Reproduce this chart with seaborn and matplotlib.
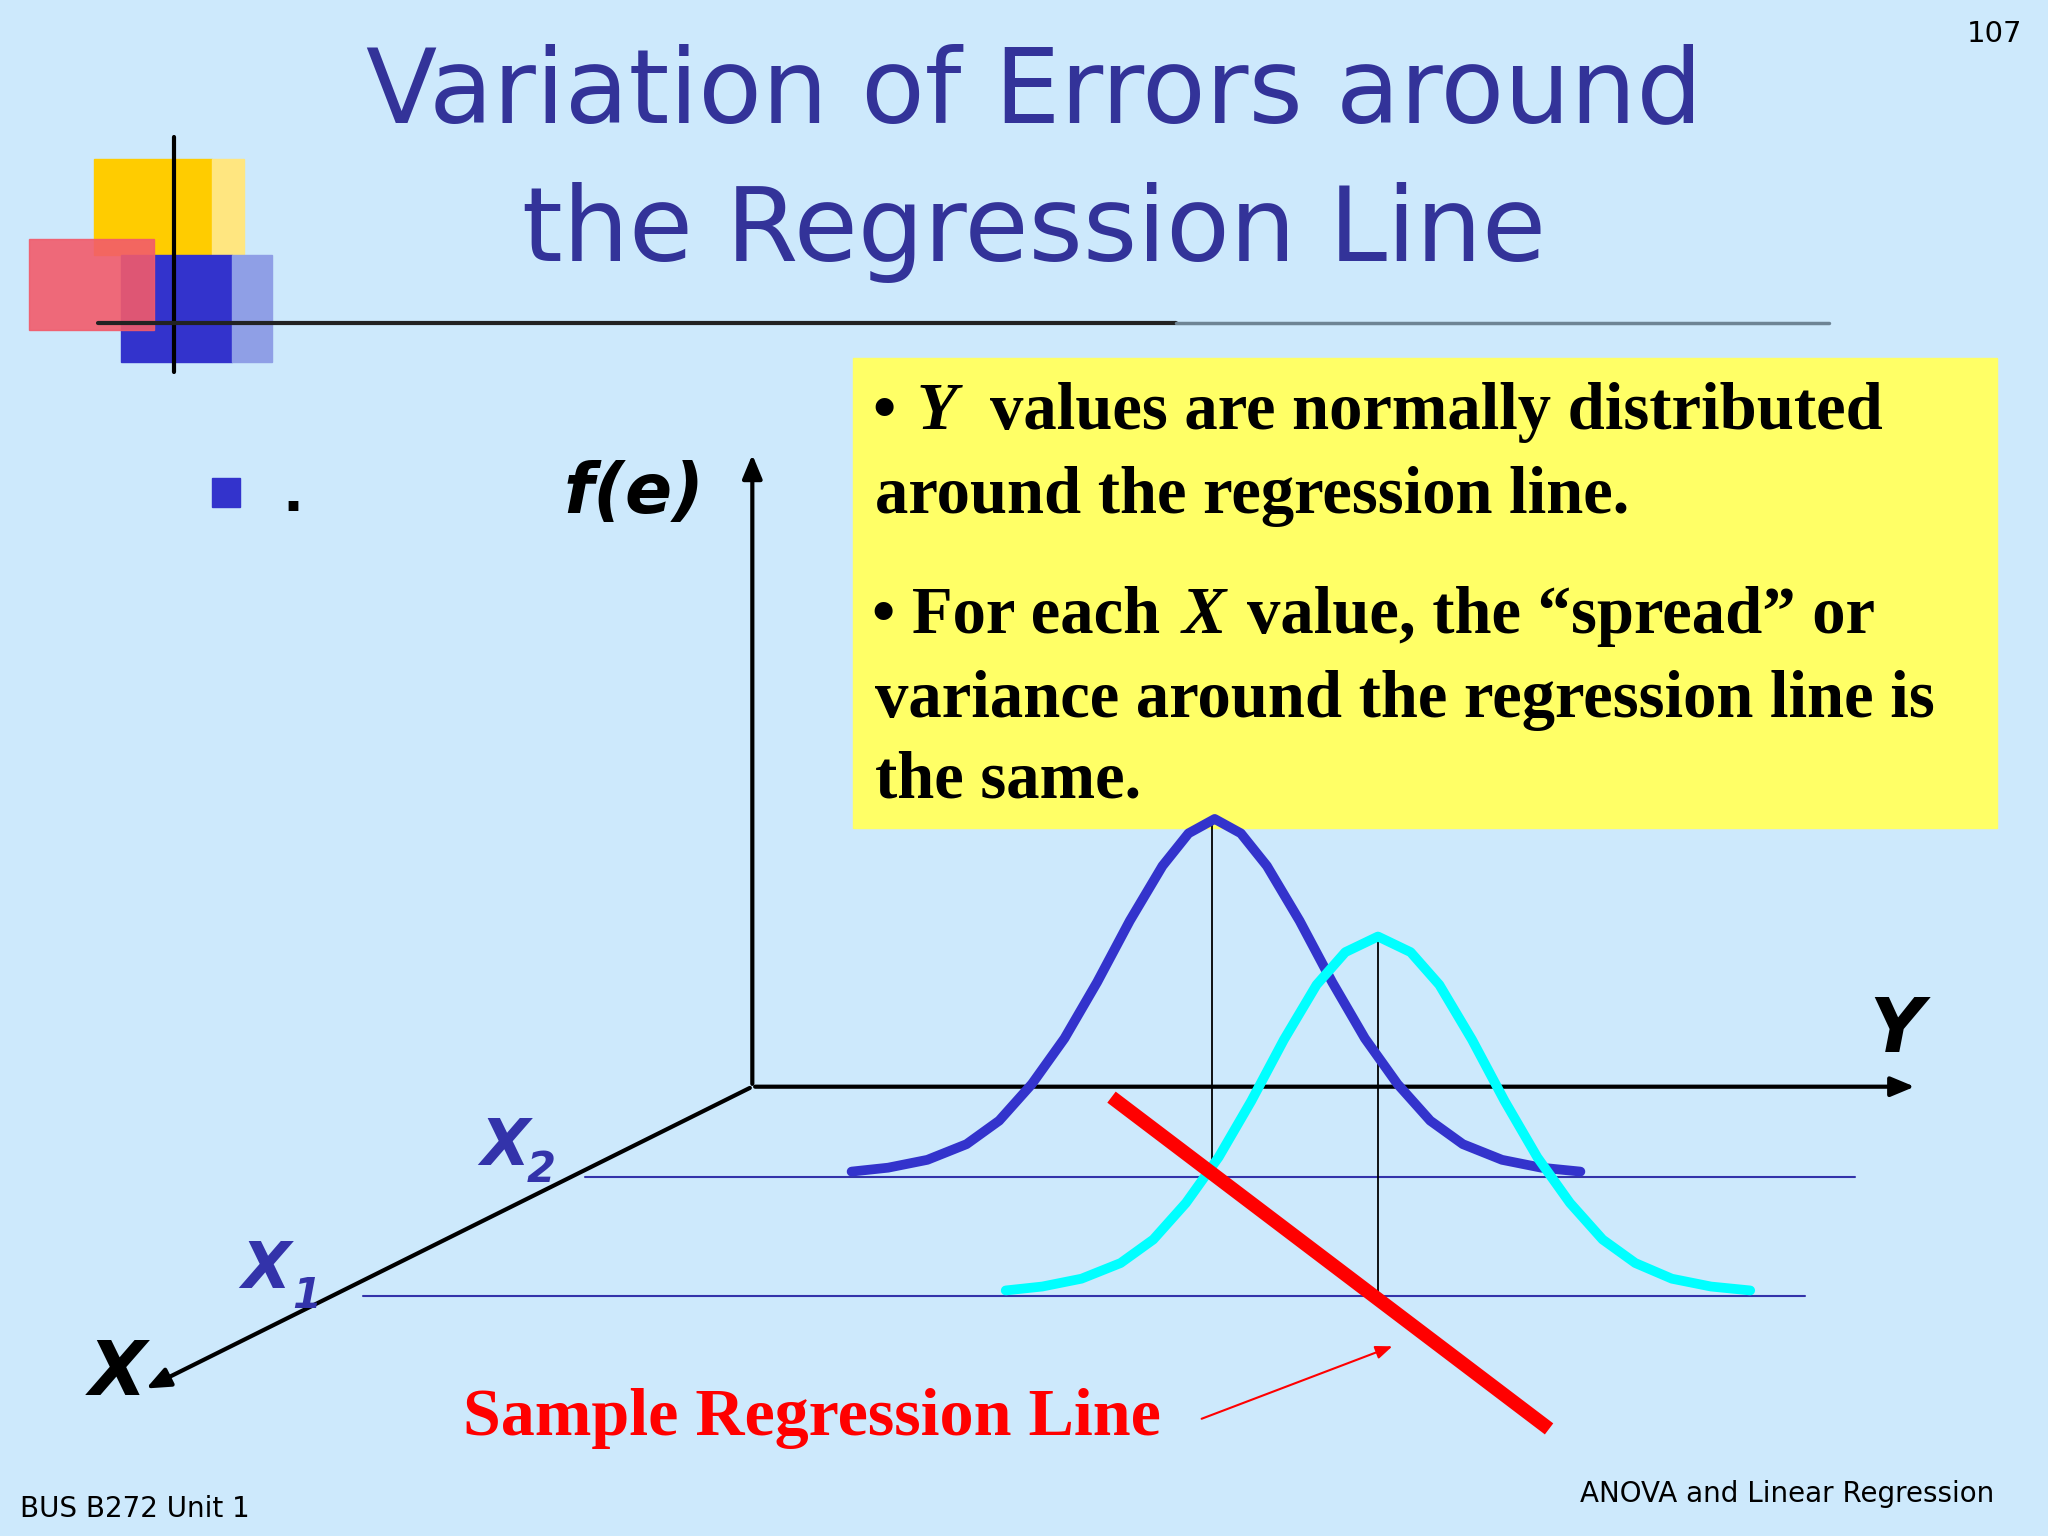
import matplotlib
matplotlib.use("Agg")
import matplotlib.pyplot as plt
import seaborn as sns
import numpy as np
import pandas as pd
from matplotlib.patches import Rectangle, FancyArrowPatch

sns.set_theme(style="white")
plt.rcParams['font.family'] = ['DejaVu Sans']
plt.rcParams['text.color'] = 'black'

# Curve points (reference pixel coordinates)
curve1_x = [652, 680, 710, 740, 765, 790, 815, 840, 865, 890, 910, 930, 950, 970, 995, 1020, 1045, 1070, 1095, 1120, 1150, 1180, 1210]
curve1_y = [897, 894, 888, 876, 858, 830, 795, 752, 705, 663, 638, 627, 638, 663, 705, 752, 795, 830, 858, 876, 888, 894, 897]
curve2_x = [770, 798, 828, 858, 883, 908, 933, 958, 983, 1008, 1030, 1055, 1080, 1102, 1127, 1152, 1177, 1202, 1227, 1252, 1280, 1310, 1340]
curve2_y = [988, 985, 979, 967, 949, 921, 886, 843, 796, 754, 729, 717, 729, 754, 796, 843, 886, 921, 949, 967, 979, 985, 988]

title1 = "Variation of Errors around"
title2 = "the Regression Line"
box_text1 = "around the regression line."
box_text2 = "variance around the regression line is"
box_text3 = "the same."
footer_left = "BUS B272 Unit 1"
footer_right = "ANOVA and Linear Regression"
page_no = "107"

bg = "#CDE9FC"
fig = plt.figure(figsize=(20.48, 15.36), dpi=100, facecolor=bg)
ax = fig.add_axes([0, 0, 1, 1])

# decorative squares
ax.add_patch(Rectangle((72, 122), 90, 73, color="#FFCC00", zorder=1))
ax.add_patch(Rectangle((162, 122), 25, 73, color="#FFE680", zorder=1))
ax.add_patch(Rectangle((93, 195), 85, 82, color="#3333CC", zorder=2))
ax.add_patch(Rectangle((178, 195), 30, 82, color="#8F9FE6", zorder=2))
ax.add_patch(Rectangle((22, 183), 96, 70, color="#F25B6B", alpha=0.9, zorder=3))
ax.plot([133, 133], [105, 285], color="black", lw=3, zorder=4)
ax.plot([75, 900], [247, 247], color="#222222", lw=3, zorder=4)
ax.plot([900, 1400], [247, 247], color="#6E8494", lw=2.5, zorder=4)

ax.text(792, 72, title1, ha="center", va="center", fontsize=75, color="#333399")
ax.text(792, 178, title2, ha="center", va="center", fontsize=75, color="#333399")
ax.text(1548, 26, page_no, ha="right", va="center", fontsize=21, color="black")
ax.text(15, 1155, footer_left, ha="left", va="center", fontsize=20, color="black")
ax.text(1527, 1144, footer_right, ha="right", va="center", fontsize=20, color="black")

# bullet
ax.add_patch(Rectangle((162, 366), 22, 22, color="#3333CC"))
ax.text(216, 380, ".", fontsize=40, fontweight="bold", ha="left", va="center", color="black")

# yellow box
ax.add_patch(Rectangle((653, 274), 876, 360, color="#FFFF66", zorder=1))
serif = ['Liberation Serif', 'DejaVu Serif']
kw = dict(fontsize=48, family=serif, fontweight="bold", va="center", color="black", zorder=2)
ax.text(668, 316, "\u2022", **kw)
ax.text(702, 316, "Y", style="italic", **kw)
ax.text(758, 316, "values are normally distributed", **kw)
ax.text(670, 380, box_text1, **kw)
ax.text(668, 472, "\u2022 For each", **kw)
ax.text(905, 472, "X", style="italic", **kw)
ax.text(955, 472, "value, the \u201cspread\u201d or", **kw)
ax.text(670, 536, box_text2, **kw)
ax.text(670, 598, box_text3, **kw)

# axes
arr = dict(arrowstyle="-|>,head_length=1.2,head_width=0.5", color="black", lw=3)
ax.add_patch(FancyArrowPatch((576, 832), (576, 346), mutation_scale=12, **arr))
ax.add_patch(FancyArrowPatch((576, 832), (1468, 832), mutation_scale=12, **arr))
ax.add_patch(FancyArrowPatch((576, 832), (110, 1064), mutation_scale=12, **arr))

ax.text(485, 378, "f(e)", fontsize=50, fontweight="bold", style="italic", ha="center", va="center", color="black")
ax.text(1452, 790, "Y", fontsize=54, fontweight="bold", style="italic", ha="center", va="center", color="black")
ax.text(90, 1052, "X", fontsize=54, fontweight="bold", style="italic", ha="center", va="center", color="black")
ax.text(368, 878, "X", fontsize=46, fontweight="bold", style="italic", color="#3333AA", ha="left", va="center")
ax.text(403, 896, "2", fontsize=30, fontweight="bold", style="italic", color="#3333AA", ha="left", va="center")
ax.text(185, 972, "X", fontsize=46, fontweight="bold", style="italic", color="#3333AA", ha="left", va="center")
ax.text(224, 992, "1", fontsize=30, fontweight="bold", style="italic", color="#3333AA", ha="left", va="center")

ax.plot([448, 1420], [901, 901], color="#3333AA", lw=1.5)
ax.plot([278, 1382], [992, 992], color="#3333AA", lw=1.5)
ax.plot([928, 928], [627, 900], color="black", lw=1.3)
ax.plot([1055, 1055], [717, 992], color="black", lw=1.3)

df1 = pd.DataFrame({"x": curve1_x, "y": curve1_y})
df2 = pd.DataFrame({"x": curve2_x, "y": curve2_y})
sns.lineplot(data=df1, x="x", y="y", ax=ax, color="#3333CC", lw=7, sort=False, zorder=5)
sns.lineplot(data=df2, x="x", y="y", ax=ax, color="#00FFFF", lw=7, sort=False, zorder=5)

ax.plot([851, 1186], [840, 1094], color="#FF0000", lw=10, solid_capstyle="butt", zorder=6)
ax.add_patch(FancyArrowPatch((918, 1087), (1068, 1030), arrowstyle="-|>,head_length=1,head_width=0.4",
                             mutation_scale=10, color="#FF0000", lw=1.5))
ax.text(622, 1086, "Sample Regression Line", fontsize=49, family=serif, fontweight="bold",
        color="#FF0000", ha="center", va="center")

ax.set_xlim(0, 1568)
ax.set_ylim(1176, 0)
ax.axis("off")
fig.savefig("out.png", dpi=100, facecolor=bg)
